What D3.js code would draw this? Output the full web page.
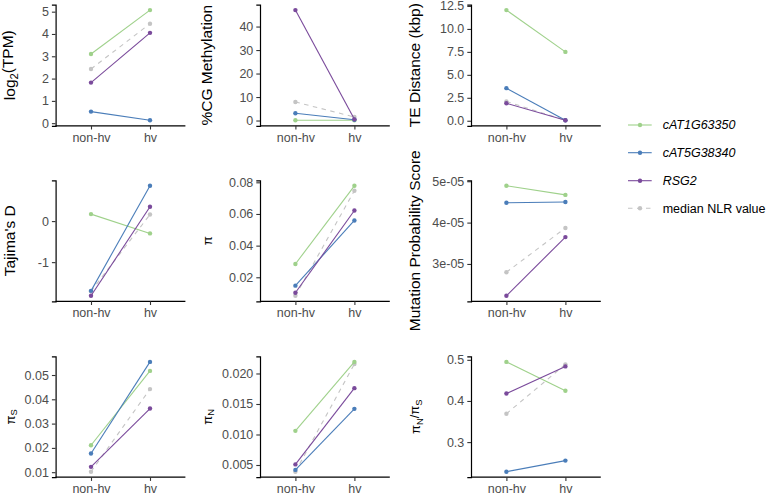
<!DOCTYPE html>
<html><head><meta charset="utf-8">
<script src="https://cdn.jsdelivr.net/npm/d3@7"></script>
<style>
body{margin:0;background:#fff;}
svg text{font-family:"Liberation Sans",Arial,Helvetica,sans-serif;}
</style></head>
<body><svg id="chart" width="769" height="497"></svg>
<script>
// ---- data ----
const groups = ["non-hv", "hv"];
const seriesNames = ["median NLR value", "cAT1G63350", "cAT5G38340", "RSG2"];
const legendOrder = ["cAT1G63350", "cAT5G38340", "RSG2", "median NLR value"];

const logTPM      = {"median NLR value":[2.43,4.46], "cAT1G63350":[3.10,5.07], "cAT5G38340":[0.52,0.13], "RSG2":[1.82,4.05]};
const cgMeth      = {"median NLR value":[7.9,1.5], "cAT1G63350":[0.1,0.1], "cAT5G38340":[3.1,0.3], "RSG2":[47.0,0.5]};
const teDist      = {"median NLR value":[2.1,0.05], "cAT1G63350":[12.05,7.5], "cAT5G38340":[3.55,0.06], "RSG2":[1.9,0.05]};
const tajimaD     = {"median NLR value":[-1.71,0.16], "cAT1G63350":[0.17,-0.30], "cAT5G38340":[-1.70,0.86], "RSG2":[-1.82,0.35]};
const piVals      = {"median NLR value":[0.0083,0.0747], "cAT1G63350":[0.0284,0.0778], "cAT5G38340":[0.0147,0.0559], "RSG2":[0.0102,0.0622]};
const mutProb     = {"median NLR value":[2.80e-5,3.87e-5], "cAT1G63350":[4.89e-5,4.67e-5], "cAT5G38340":[4.48e-5,4.50e-5], "RSG2":[2.23e-5,3.65e-5]};
const piS         = {"median NLR value":[0.0102,0.0442], "cAT1G63350":[0.0211,0.0517], "cAT5G38340":[0.0177,0.0554], "RSG2":[0.0122,0.0362]};
const piN         = {"median NLR value":[0.0039,0.02155], "cAT1G63350":[0.0106,0.0219], "cAT5G38340":[0.0042,0.0142], "RSG2":[0.0051,0.0176]};
const piRatio     = {"median NLR value":[0.369,0.489], "cAT1G63350":[0.495,0.425], "cAT5G38340":[0.228,0.255], "RSG2":[0.418,0.484]};

const ticksTPM = [0,1,2,3,4,5];
const ticksCG = [0,10,20,30,40];
const ticksTE = [0,2.5,5,7.5,10,12.5];
const ticksTaj = [-1,0];
const ticksPi = [0.02,0.04,0.06,0.08];
const ticksMut = [3e-5,4e-5,5e-5];
const ticksPiS = [0.01,0.02,0.03,0.04,0.05];
const ticksPiN = [0.005,0.010,0.015,0.020];
const ticksRatio = [0.3,0.4,0.5];

const colors = {"cAT1G63350":"#9fd18b", "cAT5G38340":"#4a7db9", "RSG2":"#7a4a9b", "median NLR value":"#c4c4c4"};

// ---- layout ----
const cols = [{left:55.6, titleX:14.5}, {left:260, titleX:211.5}, {left:471, titleX:420}];
const rows = [{top:4.6, bottom:125.8}, {top:180.3, bottom:301.3}, {top:356.4, bottom:477.2}];
const panelW = 129.8;

const panels = [
  {r:0,c:0,data:logTPM,ticks:ticksTPM,fmt:d3.format("d"),title:[["log",0],["2",1],["(TPM)",0]],fs:15.5},
  {r:0,c:1,data:cgMeth,ticks:ticksCG,fmt:d3.format("d"),title:[["%CG Methylation",0]],fs:15.5},
  {r:0,c:2,data:teDist,ticks:ticksTE,fmt:d3.format(".1f"),title:[["TE Distance (kbp)",0]],fs:15.5},
  {r:1,c:0,data:tajimaD,ticks:ticksTaj,fmt:d=>String(d),title:[["Tajima's D",0]],fs:15.5},
  {r:1,c:1,data:piVals,ticks:ticksPi,fmt:d3.format(".2f"),title:[["π",0]],fs:13},
  {r:1,c:2,data:mutProb,ticks:ticksMut,fmt:d=>Math.round(d*1e5)+"e-05",title:[["Mutation Probability Score",0]],fs:15.5},
  {r:2,c:0,data:piS,ticks:ticksPiS,fmt:d3.format(".2f"),title:[["π",0],["S",1]],fs:13},
  {r:2,c:1,data:piN,ticks:ticksPiN,fmt:d3.format(".3f"),title:[["π",0],["N",1]],fs:13},
  {r:2,c:2,data:piRatio,ticks:ticksRatio,fmt:d3.format(".1f"),title:[["π",0],["N",1],["/π",0],["S",1]],fs:13}
];

const svg = d3.select("#chart");

panels.forEach(p => {
  const col = cols[p.c], row = rows[p.r];
  const all = seriesNames.flatMap(s => p.data[s]);
  const mn = d3.min(all), mx = d3.max(all), pad = (mx - mn) * 0.05;
  const y = d3.scaleLinear().domain([mn - pad, mx + pad]).range([row.bottom, row.top]);
  const x = d3.scalePoint().domain(groups).range([col.left, col.left + panelW]).padding(0.6);
  const g = svg.append("g");

  // y axis
  const ya = d3.axisLeft(y).tickValues(p.ticks).tickFormat(p.fmt).tickSizeOuter(0).tickSize(3.7).tickPadding(3);
  const yg = g.append("g").attr("transform", `translate(${col.left},0)`).call(ya);
  yg.select(".domain").attr("stroke", "#000").attr("stroke-width", 1.2);
  yg.selectAll(".tick line").attr("stroke", "#333").attr("stroke-width", 1.1);
  yg.selectAll(".tick text").attr("fill", "#4d4d4d").style("font-size", "12.5px");

  // x axis
  const xa = d3.axisBottom(x).tickSizeOuter(0).tickSize(3.7).tickPadding(3.5);
  const xg = g.append("g").attr("transform", `translate(0,${row.bottom})`).call(xa);
  xg.select(".domain").attr("stroke", "#000").attr("stroke-width", 1.2)
    .attr("d", `M${col.left},0H${col.left + panelW}`);
  xg.selectAll(".tick line").attr("stroke", "#333").attr("stroke-width", 1.1);
  xg.selectAll(".tick text").attr("fill", "#4d4d4d").style("font-size", "12.5px");

  // lines & points
  const line = d3.line().x((d, i) => x(groups[i])).y(d => y(d));
  seriesNames.forEach(s => {
    g.append("path").attr("d", line(p.data[s])).attr("fill", "none")
      .attr("stroke", colors[s]).attr("stroke-width", 1.1)
      .attr("stroke-dasharray", s === "median NLR value" ? "4.5,4.5" : null);
    g.selectAll(null).data(p.data[s]).enter().append("circle")
      .attr("cx", (d, i) => x(groups[i])).attr("cy", d => y(d)).attr("r", 2.2)
      .attr("fill", colors[s]);
  });

  // title
  const cy = (row.top + row.bottom) / 2;
  const t = g.append("text").attr("transform", `translate(${col.titleX},${cy}) rotate(-90)`)
    .attr("text-anchor", "middle").attr("fill", "#000").style("font-size", p.fs + "px");
  let shifted = false;
  p.title.forEach(([txt, sub]) => {
    const ts = t.append("tspan").text(txt);
    if (sub && !shifted) { ts.attr("dy", "0.3em").style("font-size", (p.fs * 0.72) + "px"); shifted = true; }
    else if (sub) { ts.style("font-size", (p.fs * 0.72) + "px"); }
    else if (!sub && shifted) { ts.attr("dy", "-0.3em"); shifted = false; }
  });
});

// legend
const legY = [125, 152.7, 180.7, 208.3];
const leg = svg.append("g");
legendOrder.forEach((s, i) => {
  leg.append("line").attr("x1", 628).attr("x2", 651.7).attr("y1", legY[i]).attr("y2", legY[i])
    .attr("stroke", colors[s]).attr("stroke-width", 1.1)
    .attr("stroke-dasharray", s === "median NLR value" ? "4.5,4.5" : null);
  leg.append("circle").attr("cx", 640).attr("cy", legY[i]).attr("r", 2.2).attr("fill", colors[s]);
  leg.append("text").attr("x", 662.7).attr("y", legY[i]).attr("dy", "0.35em")
    .style("font-size", "12.5px").style("font-style", s === "median NLR value" ? "normal" : "italic")
    .attr("fill", "#000").text(s);
});
</script></body></html>
